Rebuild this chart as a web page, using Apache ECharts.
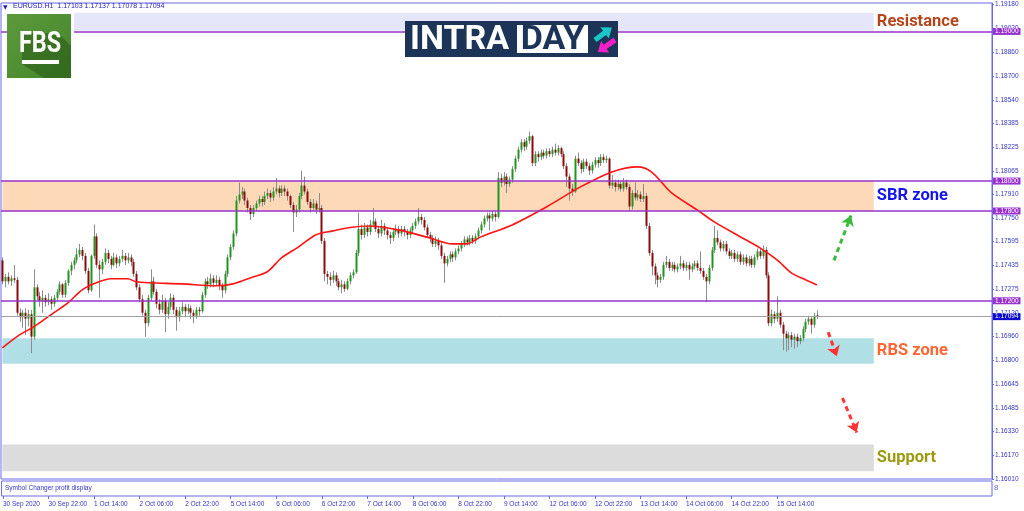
<!DOCTYPE html>
<html><head><meta charset="utf-8">
<script src="https://cdn.jsdelivr.net/npm/echarts@6/dist/echarts.min.js"></script>
<style>html,body{margin:0;padding:0;background:#fff}#c{width:1024px;height:511px}</style>
</head><body><div id="c"></div>
<script>
// ---------- data ----------
const xLabels = ['30 Sep 2020','30 Sep 22:00','1 Oct 14:00','2 Oct 06:00','2 Oct 22:00','5 Oct 14:00','6 Oct 06:00','6 Oct 22:00','7 Oct 14:00','8 Oct 06:00','8 Oct 22:00','9 Oct 14:00','12 Oct 06:00','12 Oct 22:00','13 Oct 14:00','14 Oct 06:00','14 Oct 22:00','15 Oct 14:00'];
const yTicks = [1.19180,1.19020,1.18860,1.18700,1.18540,1.18385,1.18225,1.18065,1.17910,1.17750,1.17595,1.17435,1.17275,1.17120,1.16960,1.16800,1.16645,1.16485,1.16330,1.16170,1.16010];
// [open, high, low, close] per H1 bar
const candles = [
[1.1747,1.1749,1.1731,1.1733],[1.1733,1.1738,1.1729,1.1736],[1.1736,1.1739,1.1731,1.1733],[1.1733,1.1737,1.1730,1.1735],[1.1735,1.1744,1.1732,1.1734],
[1.1734,1.1736,1.1710,1.1712],[1.1712,1.1715,1.1706,1.1709],[1.1709,1.1714,1.1702,1.1712],[1.1712,1.1715,1.1697,1.1708],[1.1708,1.1714,1.1703,1.1711],
[1.1711,1.1714,1.1685,1.1696],[1.1696,1.1741,1.1694,1.1729],[1.1729,1.1731,1.1720,1.1723],[1.1723,1.1726,1.1716,1.1720],[1.1720,1.1727,1.1712,1.1722],
[1.1722,1.1724,1.1716,1.1719],[1.1719,1.1725,1.1717,1.1721],[1.1721,1.1723,1.1714,1.1718],[1.1718,1.1724,1.1716,1.1722],[1.1722,1.1728,1.1720,1.1726],
[1.1726,1.1733,1.1724,1.1731],[1.1731,1.1732,1.1722,1.1724],[1.1724,1.1734,1.1722,1.1732],[1.1732,1.1741,1.1730,1.1740],[1.1740,1.1746,1.1737,1.1744],
[1.1744,1.1749,1.1741,1.1747],[1.1747,1.1755,1.1745,1.1751],[1.1751,1.1758,1.1749,1.1754],[1.1754,1.1756,1.1747,1.1750],[1.1750,1.1752,1.1738,1.1740],
[1.1740,1.1742,1.1725,1.1727],[1.1727,1.1751,1.1726,1.1750],[1.1750,1.1771,1.1748,1.1763],[1.1763,1.1765,1.1742,1.1744],[1.1744,1.1747,1.1722,1.1741],
[1.1741,1.1748,1.1738,1.1746],[1.1746,1.1755,1.1744,1.1752],[1.1752,1.1754,1.1745,1.1748],[1.1748,1.1750,1.1741,1.1744],[1.1744,1.1752,1.1743,1.1749],
[1.1749,1.1751,1.1742,1.1745],[1.1745,1.1750,1.1743,1.1748],[1.1748,1.1754,1.1746,1.1750],[1.1750,1.1752,1.1744,1.1747],[1.1747,1.1752,1.1745,1.1749],
[1.1749,1.1751,1.1743,1.1746],[1.1746,1.1748,1.1736,1.1738],[1.1738,1.1740,1.1727,1.1729],[1.1729,1.1731,1.1719,1.1721],[1.1721,1.1724,1.1710,1.1712],
[1.1712,1.1714,1.1696,1.1705],[1.1705,1.1724,1.1703,1.1722],[1.1722,1.1741,1.1720,1.1733],[1.1733,1.1736,1.1724,1.1726],[1.1726,1.1728,1.1715,1.1718],
[1.1718,1.1721,1.1711,1.1714],[1.1714,1.1724,1.1712,1.1720],[1.1720,1.1722,1.1699,1.1711],[1.1711,1.1719,1.1708,1.1716],[1.1716,1.1725,1.1714,1.1722],
[1.1722,1.1724,1.1711,1.1714],[1.1714,1.1716,1.1700,1.1709],[1.1709,1.1716,1.1706,1.1713],[1.1713,1.1719,1.1711,1.1716],[1.1716,1.1718,1.1709,1.1713],
[1.1713,1.1718,1.1711,1.1715],[1.1715,1.1717,1.1708,1.1712],[1.1712,1.1714,1.1705,1.1710],[1.1710,1.1716,1.1708,1.1714],[1.1714,1.1716,1.1710,1.1713],
[1.1713,1.1726,1.1712,1.1724],[1.1724,1.1735,1.1722,1.1733],[1.1733,1.1736,1.1728,1.1731],[1.1731,1.1738,1.1729,1.1735],[1.1735,1.1737,1.1729,1.1732],
[1.1732,1.1737,1.1730,1.1734],[1.1734,1.1736,1.1727,1.1730],[1.1730,1.1732,1.1722,1.1727],[1.1727,1.1740,1.1725,1.1738],[1.1738,1.1751,1.1736,1.1749],
[1.1749,1.1758,1.1747,1.1756],[1.1756,1.1767,1.1754,1.1765],[1.1765,1.1790,1.1763,1.1787],[1.1787,1.1799,1.1785,1.1791],[1.1791,1.1796,1.1788,1.1793],
[1.1793,1.1795,1.1784,1.1787],[1.1787,1.1789,1.1779,1.1782],[1.1782,1.1784,1.1774,1.1778],[1.1778,1.1784,1.1776,1.1782],[1.1782,1.1787,1.1780,1.1785],
[1.1785,1.1790,1.1783,1.1788],[1.1788,1.1790,1.1783,1.1786],[1.1786,1.1793,1.1784,1.1790],[1.1790,1.1795,1.1788,1.1792],[1.1792,1.1794,1.1786,1.1789],
[1.1789,1.1796,1.1787,1.1793],[1.1793,1.1802,1.1791,1.1795],[1.1795,1.1797,1.1789,1.1792],[1.1792,1.1797,1.1790,1.1795],[1.1795,1.1797,1.1790,1.1793],
[1.1793,1.1795,1.1787,1.1790],[1.1790,1.1791,1.1782,1.1784],[1.1784,1.1786,1.1766,1.1779],[1.1779,1.1784,1.1776,1.1781],[1.1781,1.1792,1.1779,1.1790],
[1.1790,1.1807,1.1788,1.1797],[1.1797,1.1803,1.1791,1.1793],[1.1793,1.1795,1.1784,1.1786],[1.1786,1.1788,1.1779,1.1782],[1.1782,1.1788,1.1780,1.1785],
[1.1785,1.1787,1.1778,1.1781],[1.1781,1.1792,1.1779,1.1782],[1.1782,1.1784,1.1758,1.1760],[1.1760,1.1762,1.1733,1.1738],[1.1738,1.1740,1.1731,1.1736],
[1.1736,1.1739,1.1730,1.1734],[1.1734,1.1740,1.1732,1.1737],[1.1737,1.1739,1.1730,1.1733],[1.1733,1.1735,1.1727,1.1729],[1.1729,1.1734,1.1725,1.1731],
[1.1731,1.1733,1.1726,1.1728],[1.1728,1.1735,1.1727,1.1733],[1.1733,1.1739,1.1731,1.1737],[1.1737,1.1741,1.1735,1.1739],[1.1739,1.1754,1.1738,1.1752],
[1.1752,1.1779,1.1750,1.1768],[1.1768,1.1771,1.1761,1.1764],[1.1764,1.1772,1.1762,1.1769],[1.1769,1.1771,1.1763,1.1766],[1.1766,1.1774,1.1764,1.1771],
[1.1771,1.1782,1.1769,1.1773],[1.1773,1.1775,1.1766,1.1768],[1.1768,1.1770,1.1762,1.1765],[1.1765,1.1774,1.1763,1.1770],[1.1770,1.1772,1.1764,1.1767],
[1.1767,1.1769,1.1761,1.1764],[1.1764,1.1766,1.1758,1.1762],[1.1762,1.1768,1.1760,1.1766],[1.1766,1.1771,1.1764,1.1768],[1.1768,1.1770,1.1762,1.1765],
[1.1765,1.1770,1.1763,1.1768],[1.1768,1.1770,1.1763,1.1766],[1.1766,1.1768,1.1761,1.1764],[1.1764,1.1769,1.1762,1.1767],[1.1767,1.1772,1.1765,1.1770],
[1.1770,1.1775,1.1768,1.1773],[1.1773,1.1782,1.1771,1.1776],[1.1776,1.1778,1.1771,1.1774],[1.1774,1.1776,1.1767,1.1769],[1.1769,1.1771,1.1762,1.1764],
[1.1764,1.1766,1.1759,1.1762],[1.1762,1.1764,1.1756,1.1758],[1.1758,1.1763,1.1756,1.1760],[1.1760,1.1762,1.1754,1.1757],[1.1757,1.1759,1.1748,1.1750],
[1.1750,1.1752,1.1732,1.1745],[1.1745,1.1750,1.1743,1.1748],[1.1748,1.1753,1.1746,1.1751],[1.1751,1.1753,1.1746,1.1749],[1.1749,1.1755,1.1747,1.1753],
[1.1753,1.1757,1.1751,1.1755],[1.1755,1.1760,1.1753,1.1758],[1.1758,1.1763,1.1756,1.1761],[1.1761,1.1763,1.1757,1.1759],[1.1759,1.1764,1.1757,1.1762],
[1.1762,1.1764,1.1758,1.1760],[1.1760,1.1765,1.1758,1.1763],[1.1763,1.1769,1.1761,1.1767],[1.1767,1.1773,1.1765,1.1771],[1.1771,1.1777,1.1769,1.1775],
[1.1775,1.1779,1.1773,1.1777],[1.1777,1.1779,1.1767,1.1775],[1.1775,1.1780,1.1773,1.1778],[1.1778,1.1780,1.1773,1.1776],[1.1776,1.1806,1.1775,1.1802],
[1.1802,1.1805,1.1796,1.1799],[1.1799,1.1806,1.1797,1.1803],[1.1803,1.1805,1.1792,1.1798],[1.1798,1.1803,1.1796,1.1801],[1.1801,1.1810,1.1799,1.1808],
[1.1808,1.1817,1.1806,1.1815],[1.1815,1.1823,1.1813,1.1821],[1.1821,1.1828,1.1819,1.1826],[1.1826,1.1828,1.1820,1.1823],[1.1823,1.1829,1.1821,1.1827],
[1.1827,1.1833,1.1825,1.1830],[1.1830,1.1831,1.1810,1.1812],[1.1812,1.1820,1.1810,1.1818],[1.1818,1.1820,1.1813,1.1816],[1.1816,1.1821,1.1814,1.1819],
[1.1819,1.1821,1.1815,1.1817],[1.1817,1.1822,1.1815,1.1820],[1.1820,1.1822,1.1816,1.1818],[1.1818,1.1823,1.1816,1.1821],[1.1821,1.1825,1.1817,1.1819],
[1.1819,1.1824,1.1817,1.1822],[1.1822,1.1823,1.1816,1.1818],[1.1818,1.1820,1.1808,1.1810],[1.1810,1.1812,1.1796,1.1803],[1.1803,1.1805,1.1787,1.1795],
[1.1795,1.1798,1.1790,1.1793],[1.1793,1.1817,1.1792,1.1815],[1.1815,1.1819,1.1810,1.1812],[1.1812,1.1814,1.1805,1.1808],[1.1808,1.1815,1.1806,1.1813],
[1.1813,1.1815,1.1808,1.1810],[1.1810,1.1812,1.1804,1.1807],[1.1807,1.1813,1.1805,1.1811],[1.1811,1.1816,1.1809,1.1814],[1.1814,1.1816,1.1809,1.1812],
[1.1812,1.1818,1.1810,1.1816],[1.1816,1.1818,1.1812,1.1814],[1.1814,1.1817,1.1812,1.1815],[1.1815,1.1816,1.1795,1.1797],[1.1797,1.1804,1.1795,1.1799],
[1.1799,1.1801,1.1793,1.1796],[1.1796,1.1801,1.1794,1.1798],[1.1798,1.1800,1.1793,1.1795],[1.1795,1.1802,1.1793,1.1799],[1.1799,1.1801,1.1794,1.1796],
[1.1796,1.1798,1.1780,1.1783],[1.1783,1.1794,1.1781,1.1792],[1.1792,1.1799,1.1787,1.1789],[1.1789,1.1794,1.1787,1.1791],[1.1791,1.1793,1.1786,1.1788],
[1.1788,1.1798,1.1786,1.1790],[1.1790,1.1792,1.1768,1.1770],[1.1770,1.1772,1.1750,1.1752],[1.1752,1.1754,1.1737,1.1743],[1.1743,1.1745,1.1731,1.1737],
[1.1737,1.1739,1.1729,1.1734],[1.1734,1.1738,1.1732,1.1736],[1.1736,1.1746,1.1734,1.1744],[1.1744,1.1750,1.1742,1.1746],[1.1746,1.1748,1.1740,1.1742],
[1.1742,1.1746,1.1740,1.1744],[1.1744,1.1746,1.1739,1.1741],[1.1741,1.1745,1.1739,1.1743],[1.1743,1.1750,1.1741,1.1745],[1.1745,1.1747,1.1740,1.1742],
[1.1742,1.1746,1.1740,1.1744],[1.1744,1.1746,1.1734,1.1741],[1.1741,1.1745,1.1739,1.1743],[1.1743,1.1747,1.1741,1.1745],[1.1745,1.1747,1.1740,1.1742],
[1.1742,1.1753,1.1738,1.1740],[1.1740,1.1742,1.1734,1.1736],[1.1736,1.1738,1.1719,1.1733],[1.1733,1.1744,1.1731,1.1742],[1.1742,1.1756,1.1740,1.1754],
[1.1754,1.1770,1.1752,1.1762],[1.1762,1.1767,1.1757,1.1759],[1.1759,1.1761,1.1753,1.1755],[1.1755,1.1760,1.1753,1.1758],[1.1758,1.1760,1.1751,1.1753],
[1.1753,1.1755,1.1748,1.1750],[1.1750,1.1754,1.1748,1.1752],[1.1752,1.1754,1.1746,1.1748],[1.1748,1.1753,1.1746,1.1751],[1.1751,1.1753,1.1744,1.1746],
[1.1746,1.1751,1.1744,1.1749],[1.1749,1.1751,1.1743,1.1745],[1.1745,1.1750,1.1743,1.1748],[1.1748,1.1750,1.1742,1.1744],[1.1744,1.1751,1.1742,1.1749],
[1.1749,1.1755,1.1747,1.1753],[1.1753,1.1755,1.1748,1.1750],[1.1750,1.1757,1.1748,1.1754],[1.1754,1.1756,1.1735,1.1737],[1.1737,1.1739,1.1703,1.1705],
[1.1705,1.1714,1.1703,1.1711],[1.1711,1.1713,1.1705,1.1708],[1.1708,1.1723,1.1706,1.1712],[1.1712,1.1714,1.1702,1.1704],[1.1704,1.1706,1.1687,1.1698],
[1.1698,1.1700,1.1686,1.1695],[1.1695,1.1699,1.1687,1.1697],[1.1697,1.1699,1.1689,1.1694],[1.1694,1.1698,1.1688,1.1696],[1.1696,1.1698,1.1689,1.1693],
[1.1693,1.1697,1.1691,1.1695],[1.1695,1.1703,1.1693,1.1701],[1.1701,1.1708,1.1699,1.1706],[1.1706,1.1710,1.1704,1.1708],[1.1708,1.1709,1.1698,1.1704],
[1.1704,1.1712,1.1702,1.1710],[1.17103,1.17137,1.17078,1.17094]
];
// moving average read at sample bars: [barIndex, value]
const maPoints = [[0,1.16886],[6,1.16972],[11,1.17026],[17,1.17106],[23,1.17186],[28,1.17273],[33,1.17320],[38,1.17347],[44,1.17347],[47,1.17327],[52,1.17320],[63,1.17313],[75,1.17300],[81,1.17313],[87,1.17353],[93,1.17394],[98,1.17487],[104,1.17560],[110,1.17640],[116,1.17667],[122,1.17690],[129,1.17700],[139,1.17674],[150,1.17620],[158,1.17580],[163,1.17580],[168,1.17627],[179,1.17707],[191,1.17827],[203,1.17961],[214,1.18061],[223,1.18095],[228,1.18060],[235,1.17921],[244,1.17807],[250,1.17727],[258,1.17640],[266,1.17554],[272,1.17474],[277,1.17387],[282,1.17340],[286,1.17306]];
const zoneNames = ['Resistance','SBR zone','RBS zone','Support'];
const zoneLow   = [1.19005,1.17800,1.16780,1.16060];
const zoneHigh  = [1.19125,1.18000,1.16950,1.16240];
const zoneFrom  = [25,0,0,0];
const zoneTo    = [306,306,306,306];
const levels = [1.19000,1.18000,1.17800,1.17200];
const lastPrice = 1.17094;
const arrowFrom = [[292,1.1747],[290,1.1699],[295,1.1655]];
const arrowTo   = [[298,1.1777],[293,1.1683],[300,1.1632]];

// ---------- chart ----------
const N = 348;
const cats = Array.from({length:N},(_,i)=>i);
const AX = '#6a6ae6', TX = '#3434c4', PURPLE = '#9932cc';
const zoneFill = ['#e6e6fa','#fdd9b8','#b0e0e6','#dcdcdc'];
const zoneText = ['#b5441b','#1414ee','#ff6633','#9c9a0e'];
const arrowCol = ['#3cb83c','#ff3333','#ff3333'];
const lbl = {fontSize:6.5,fontFamily:'Liberation Sans'};
const isTick = (i)=> i%16===0 && i/16 < xLabels.length;

const chart = echarts.init(document.getElementById('c'));
chart.setOption({
  animation:false,
  backgroundColor:'#fff',
  grid:[
    {left:1,right:32,top:3,height:476,show:true,borderColor:AX,borderWidth:1},
    {left:1,right:32,top:481,height:15,show:true,borderColor:AX,borderWidth:1}
  ],
  xAxis:[
    {type:'category',data:cats,gridIndex:0,boundaryGap:true,show:false},
    {type:'category',data:cats,gridIndex:1,boundaryGap:true,
     axisLine:{show:false},
     axisTick:{show:true,alignWithLabel:true,interval:isTick,length:3,lineStyle:{color:AX}},
     axisLabel:Object.assign({interval:isTick,formatter:(v,i)=>isTick(i)?xLabels[i/16]:'',align:'left',color:TX,margin:5},lbl),
     splitLine:{show:false}}
  ],
  yAxis:[
    {type:'value',gridIndex:0,position:'right',min:1.16009,max:1.1919,
     axisLine:{show:true,lineStyle:{color:AX}},
     axisTick:{show:true,customValues:yTicks,length:2,lineStyle:{color:AX}},
     axisLabel:Object.assign({customValues:yTicks,formatter:v=>v.toFixed(5),color:TX,margin:3},lbl),
     splitLine:{show:false}},
    {type:'value',gridIndex:1,show:false,min:0,max:1}
  ],
  series:[
    {type:'line',name:'zones',data:[],z:1,silent:true,
     markArea:{silent:true,data:zoneNames.map((n,k)=>[
       {name:n,xAxis:zoneFrom[k],yAxis:zoneLow[k],itemStyle:{color:zoneFill[k],opacity:1},
        label:{show:true,position:'right',distance:3,color:zoneText[k],fontSize:16.5,fontWeight:'bold',fontFamily:'Roboto'}},
       {xAxis:zoneTo[k],yAxis:zoneHigh[k]}])}},
    {type:'custom',name:'EURUSD',z:2,clip:true,
     data:candles.map((d,i)=>[i,d[0],d[1],d[2],d[3]]),
     encode:{x:0,y:[1,2,3,4]},
     renderItem:(p,api)=>{
       const i=api.value(0),o=api.value(1),h=api.value(2),l=api.value(3),c=api.value(4);
       const pO=api.coord([i,o]),pC=api.coord([i,c]),pH=api.coord([i,h]),pL=api.coord([i,l]);
       const x=Math.round(pO[0])+0.5;
       const top=Math.min(pO[1],pC[1]),bot=Math.max(pO[1],pC[1]);
       const up=c>=o;
       return {type:'group',children:[
         {type:'line',shape:{x1:x,y1:pH[1],x2:x,y2:pL[1]},style:{stroke:'#8c8c8c',lineWidth:1}},
         {type:'rect',shape:{x:x-1,y:top,width:2,height:Math.max(bot-top,1)},style:{fill:up?'#1e961e':'#8b0a0a'}}
       ]};
     }},
    {type:'line',name:'levels',data:[],z:3,silent:true,
     markLine:{silent:true,symbol:'none',precision:5,animation:false,
       data:levels.map(v=>({yAxis:v,lineStyle:{color:PURPLE,width:1.5,type:'solid'},
          label:Object.assign({show:true,position:'end',distance:1,formatter:v.toFixed(5),color:'#fff',backgroundColor:PURPLE,padding:[0,2]},lbl)}))
         .concat([{yAxis:lastPrice,lineStyle:{color:'#a0a0a0',width:1,type:'solid'},
          label:Object.assign({show:true,position:'end',distance:1,formatter:lastPrice.toFixed(5),color:'#fff',backgroundColor:'#0c0cc8',padding:[0,2]},lbl)}])}},
    {type:'line',name:'MA',data:maPoints,z:4,smooth:0.3,showSymbol:false,silent:true,
     lineStyle:{color:'#ff1414',width:1.6}},
    {type:'line',name:'arrows',data:[],z:5,silent:true,
     markLine:{silent:true,symbol:['none','arrow'],symbolSize:10,precision:5,label:{show:false},
       data:arrowFrom.map((f,k)=>[{coord:f,lineStyle:{color:arrowCol[k],width:3,type:[5,4]},itemStyle:{color:arrowCol[k]}},{coord:arrowTo[k]}])}}
  ],
  graphic:[
    {type:'text',z:100,left:3,top:4,style:{text:'▼',fontSize:6,fill:'#1c1cb4',fontFamily:'DejaVu Sans'}},
    {type:'text',z:100,left:13,top:3,style:{text:'EURUSD.H1  1.17103 1.17137 1.17078 1.17094',fontSize:7,fill:'#1c1cb4',fontFamily:'Liberation Sans'}},
    {type:'text',z:100,left:5,top:485,style:{text:'Symbol Changer profit display',fontSize:6.5,fill:TX,fontFamily:'Liberation Sans'}},
    {type:'text',z:100,left:994,top:484,style:{text:'8',fontSize:8,fill:AX,fontFamily:'Liberation Sans'}},
    // FBS logo
    {type:'group',z:100,children:[
      {type:'rect',z:100,shape:{x:7,y:11,width:67,height:68},style:{fill:'#fff'}},
      {type:'rect',z:101,shape:{x:7,y:14,width:64,height:64},style:{fill:new echarts.graphic.LinearGradient(0,0,1,1,[{offset:0,color:'#5c9a3c'},{offset:1,color:'#44842a'}])}},
      {type:'polygon',z:102,shape:{points:[[22,33],[58,33],[71,46],[71,78],[44,78],[22,64]]},style:{fill:'rgba(20,60,10,0.35)'}},
      {type:'text',z:103,x:40,y:44,scaleX:0.78,style:{text:'FBS',fontSize:30,fontWeight:'bold',fontFamily:'Roboto',fill:'#fff',align:'center',verticalAlign:'middle'}},
      {type:'rect',z:103,shape:{x:22,y:60,width:37,height:4},style:{fill:'#fff'}}
    ]},
    // INTRADAY logo
    {type:'group',z:100,children:[
      {type:'rect',z:100,shape:{x:405,y:21,width:213,height:36},style:{fill:'#1b3458'}},
      {type:'rect',z:101,shape:{x:517,y:25,width:71,height:28},style:{fill:'#fff'}},
      {type:'text',z:102,x:410,y:40,style:{text:'INTRA',fontSize:34,fontWeight:'bold',fontFamily:'Roboto',fill:'#fff',verticalAlign:'middle'}},
      {type:'text',z:102,x:552.5,y:40,style:{text:'DAY',fontSize:34,fontWeight:'bold',fontFamily:'Roboto',fill:'#1b3458',align:'center',verticalAlign:'middle'}},
      {type:'polygon',z:102,x:595,y:40,rotation:0.64,shape:{points:[[0,-2.6],[12,-2.6],[12,-7],[21,0],[12,7],[12,2.6],[0,2.6]]},style:{fill:'#19c6c8'}},
      {type:'polygon',z:102,x:615,y:40,rotation:3.75,shape:{points:[[0,-2.6],[12,-2.6],[12,-7],[21,0],[12,7],[12,2.6],[0,2.6]]},style:{fill:'#f51fc9'}}
    ]}
  ]
});
</script></body></html>
